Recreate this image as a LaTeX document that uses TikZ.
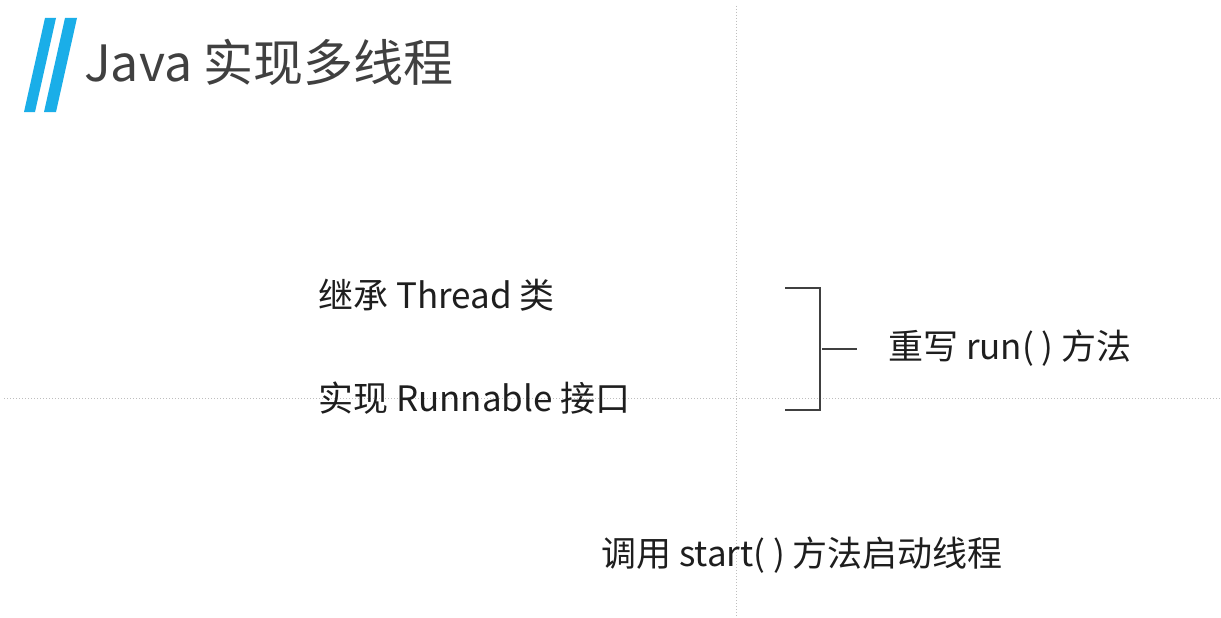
\documentclass[tikz,border=0pt]{standalone}
\usepackage{fontspec}
\newfontfamily\cjk{Noto Sans CJK SC}
\definecolor{barblue}{HTML}{1AAEE8}
\definecolor{titlegray}{HTML}{404040}
\definecolor{bodytext}{HTML}{1E1E1E}
\definecolor{guide}{HTML}{BEBEBE}
\begin{document}
\begin{tikzpicture}[x=1pt,y=-1pt,
  body/.style={anchor=west,inner sep=0pt,text=bodytext,font=\cjk\fontsize{35}{40}\selectfont},
  titletext/.style={anchor=west,inner sep=0pt,text=titlegray,font=\cjk\fontsize{50}{55}\selectfont},
  guideline/.style={draw=guide,line width=1pt,dotted},
  bracketline/.style={draw=black!75,line width=1.6pt},
  bar/.style={fill=barblue,draw=none}]
\useasboundingbox (0,0) rectangle (1221,618);
\fill[white] (0,0) rectangle (1221,618);
% guides
\coordinate (gv1) at (736,6);
\coordinate (gv2) at (736,616);
\coordinate (gh1) at (4,398);
\coordinate (gh2) at (1221,398);
\draw[guideline] (gv1) -- (gv2);
\draw[guideline] (gh1) -- (gh2);
% title bars
\fill[bar] (45,18) -- (56,18) -- (35,112) -- (24,112) -- cycle;
\fill[bar] (65,18) -- (77,18) -- (56,112) -- (44,112) -- cycle;
\node[titletext] (title) at (84,62) {Java 实现多线程};
% texts
\node[body] (thread) at (318,295) {继承 Thread 类};
\node[body] (runnable) at (318,398) {实现 Runnable 接口};
\node[body] (run) at (888,348) {重写 run( ) 方法};
\node[body] (start) at (601,555) {调用 start( ) 方法启动线程};
% bracket
\coordinate (bt) at (785,288);
\coordinate (bb) at (785,410);
\coordinate (bm) at (822,349);
\coordinate (bme) at (857,349);
\draw[bracketline] (bt) -- (820,288) -- (820,410) -- (bb);
\draw[bracketline,line width=1.2pt] (bm) -- (bme);
\end{tikzpicture}
\end{document}
